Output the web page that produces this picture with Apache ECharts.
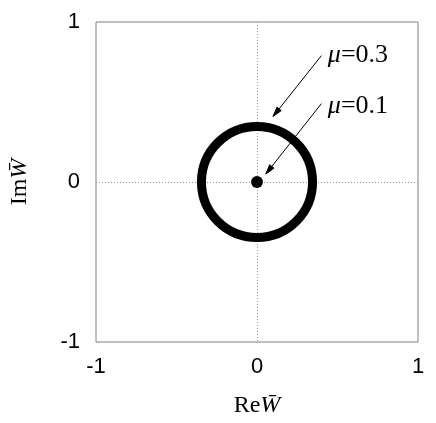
<!DOCTYPE html>
<html>
<head>
<meta charset="utf-8">
<script src="https://cdn.jsdelivr.net/npm/echarts@6/dist/echarts.min.js"></script>
<style>
    html, body { margin: 0; padding: 0; background: #fff; }
    #main { width: 436px; height: 423px; }
</style>
</head>
<body>
<div id="main"></div>
<script>
    // axis ticks
    var xTicks = [-1, 0, 1];
    var yTicks = [-1, 0, 1];

    // orbits: mu value, radius of the trajectory in the W plane
    var muValues = [0.3, 0.1];
    var orbitRadius = [0.345, 0.037];

    // annotation arrows: [x0, y0, x1, y1] (start at label, end at orbit)
    var arrows = [
        [0.40, 0.79, 0.10, 0.41],
        [0.40, 0.49, 0.055, 0.05]
    ];
    // label anchor (left, middle)
    var labelPos = [
        [0.44, 0.795],
        [0.44, 0.475]
    ];

    var chart = echarts.init(document.getElementById('main'));

    var orbitData = muValues.map(function (mu, i) {
        return [0, 0, orbitRadius[i], mu];
    });
    var arrowData = arrows.map(function (a, i) {
        return a.concat([labelPos[i][0], labelPos[i][1], muValues[i]]);
    });

    var axisText = { fontFamily: 'Liberation Sans', fontSize: 22, color: '#000' };
    var nameText = {
        fontFamily: 'Liberation Serif', fontSize: 24, color: '#000',
        rich: { i: { fontFamily: 'Liberation Serif', fontStyle: 'italic', fontSize: 24 } }
    };
    var zeroLine = {
        showMinLine: false, showMaxLine: false,
        lineStyle: { color: '#999', type: [1, 2], width: 1 }
    };

    chart.setOption({
        animation: false,
        grid: {
            left: 96, right: 18, top: 22, bottom: 78,
            show: true, borderColor: '#808080', borderWidth: 1
        },
        xAxis: {
            type: 'value', min: -1, max: 1, interval: 1,
            axisLine: { show: false }, axisTick: { show: false },
            axisLabel: Object.assign({ margin: 14 }, axisText),
            splitLine: zeroLine,
            name: 'Re{i|W̄}', nameLocation: 'middle', nameGap: 52,
            nameTextStyle: nameText
        },
        yAxis: {
            type: 'value', min: -1, max: 1, interval: 1,
            axisLine: { show: false }, axisTick: { show: false },
            axisLabel: Object.assign({ margin: 16 }, axisText),
            splitLine: zeroLine,
            name: 'Im{i|W̄}', nameLocation: 'middle', nameGap: 64, nameRotate: 90,
            nameTextStyle: nameText
        },
        series: [
            {
                type: 'custom',
                data: orbitData,
                renderItem: function (params, api) {
                    var c = api.coord([api.value(0), api.value(1)]);
                    var r = api.size([api.value(2), api.value(2)])[0];
                    var isRing = api.value(3) > 0.2;
                    return {
                        type: 'circle',
                        shape: { cx: c[0], cy: c[1], r: r },
                        style: isRing
                            ? { fill: null, stroke: '#000', lineWidth: 9 }
                            : { fill: '#000', stroke: null }
                    };
                },
                z: 3
            },
            {
                type: 'custom',
                data: arrowData,
                renderItem: function (params, api) {
                    var p0 = api.coord([api.value(0), api.value(1)]);
                    var p1 = api.coord([api.value(2), api.value(3)]);
                    var lp = api.coord([api.value(4), api.value(5)]);
                    var ang = Math.atan2(p1[1] - p0[1], p1[0] - p0[0]);
                    var len = 10, spread = 0.28;
                    var h1 = [p1[0] - len * Math.cos(ang - spread), p1[1] - len * Math.sin(ang - spread)];
                    var h2 = [p1[0] - len * Math.cos(ang + spread), p1[1] - len * Math.sin(ang + spread)];
                    return {
                        type: 'group',
                        children: [
                            { type: 'line', shape: { x1: p0[0], y1: p0[1], x2: p1[0], y2: p1[1] },
                              style: { stroke: '#000', lineWidth: 1 } },
                            { type: 'polygon', shape: { points: [h1, p1, h2] },
                              style: { fill: '#000', stroke: '#000', lineWidth: 1 } },
                            { type: 'text', x: lp[0], y: lp[1],
                              style: {
                                  text: '{m|μ}=' + api.value(6).toFixed(1),
                                  font: '26px "Liberation Serif"',
                                  fill: '#000', align: 'left', verticalAlign: 'middle',
                                  rich: { m: { fontFamily: 'Liberation Serif', fontStyle: 'italic', fontSize: 26 } }
                              } }
                        ]
                    };
                },
                z: 4
            }
        ]
    });
</script>
</body>
</html>
